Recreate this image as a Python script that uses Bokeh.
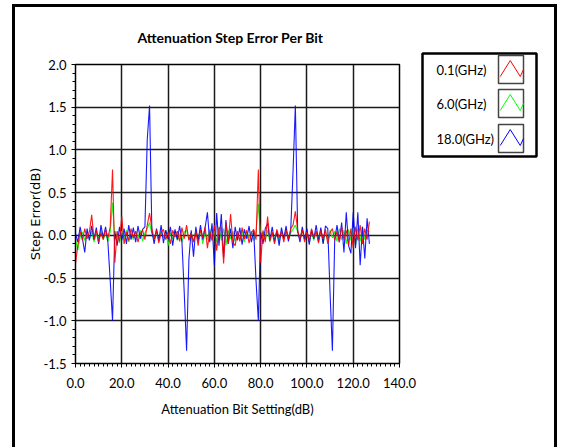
from bokeh.plotting import figure
from bokeh.models import Range1d, SingleIntervalTicker, PrintfTickFormatter
from bokeh.layouts import row
from bokeh.core.properties import value
from bokeh.embed import file_html
from bokeh.resources import INLINE

# ---------------- data ----------------
bit_setting = list(range(0, 128))

series_names = ["0.1(GHz)", "6.0(GHz)", "18.0(GHz)"]
series_colors = ["#ff0000", "#00ff00", "#0000ff"]

err_01 = [-0.33, -0.12, 0.05, -0.06, 0.08, -0.04, 0.04, 0.24, -0.05, 0.06,
          -0.08, 0.03, -0.05, 0.07, -0.03, 0.10, 0.77, -0.32, 0.05, -0.07,
          0.22, -0.10, 0.04, -0.06, 0.08, -0.03, 0.05, -0.08, 0.02, 0.06,
          -0.05, 0.12, 0.26, 0.08, -0.04, 0.06, -0.09, 0.03, 0.07, -0.05,
          0.04, -0.10, 0.06, -0.02, 0.05, -0.07, 0.09, -0.04, 0.12, -0.06,
          0.03, -0.08, 0.05, -0.12, 0.07, -0.03, 0.10, -0.15, 0.04, -0.06,
          0.12, -0.18, 0.08, 0.10, -0.33, 0.15, -0.10, 0.25, -0.08, -0.12,
          0.05, -0.07, 0.09, -0.04, 0.06, -0.09, 0.03, 0.07, -0.05, 0.77,
          -0.32, 0.06, -0.08, 0.22, -0.06, 0.04, -0.10, 0.07, -0.03, 0.05,
          -0.08, 0.06, -0.04, 0.08, 0.12, 0.28, 0.06, -0.05, 0.07, -0.08,
          0.04, -0.06, 0.08, -0.03, 0.05, -0.09, 0.06, -0.04, 0.07, -0.10,
          0.03, 0.08, -0.06, 0.05, -0.08, 0.10, -0.05, 0.06, -0.12, 0.08,
          -0.15, 0.10, -0.06, 0.12, -0.10, 0.08, -0.05, 0.16]

err_60 = [-0.05, -0.17, -0.02, 0.04, -0.06, 0.03, -0.04, 0.05, -0.08, 0.02,
          -0.03, 0.06, -0.05, 0.03, -0.07, 0.04, 0.38, -0.05, 0.03, -0.09,
          0.05, -0.04, 0.06, -0.08, 0.02, -0.05, 0.04, -0.03, 0.06, -0.07,
          0.03, 0.08, 0.15, 0.02, -0.05, 0.04, -0.06, 0.05, -0.03, 0.06,
          -0.12, 0.03, -0.04, 0.05, -0.06, 0.02, -0.08, 0.04, 0.06, -0.05,
          0.03, -0.07, 0.05, -0.04, 0.06, -0.10, 0.04, -0.05, 0.07, -0.03,
          0.05, -0.08, 0.10, -0.06, 0.08, -0.12, 0.06, -0.04, 0.05, -0.07,
          0.03, -0.05, 0.06, -0.08, 0.04, -0.03, 0.05, -0.06, 0.04, 0.37,
          -0.06, 0.04, -0.05, 0.06, -0.08, 0.03, -0.04, 0.05, -0.07, 0.04,
          -0.03, 0.06, -0.05, 0.03, 0.07, 0.12, 0.04, -0.05, 0.06, -0.04,
          0.05, -0.08, 0.03, -0.06, 0.05, -0.04, 0.07, -0.09, 0.04, -0.05,
          0.06, -0.03, 0.05, -0.07, 0.08, -0.05, 0.06, -0.10, 0.07, -0.06,
          0.09, -0.12, 0.08, -0.07, 0.10, -0.05, 0.06, 0.04]

err_180 = [0.02, -0.08, 0.10, -0.04, -0.20, 0.08, -0.06, 0.11, -0.05, 0.09,
           -0.10, 0.12, -0.03, 0.10, -0.08, -0.53, -1.00, 0.05, -0.12, 0.10,
           -0.06, 0.08, -0.10, 0.12, -0.05, 0.09, -0.08, 0.11, -0.04, 0.07,
           0.10, 1.12, 1.52, 0.05, -0.10, 0.08, -0.06, 0.12, -0.09, 0.06,
           -0.04, 0.10, -0.12, 0.07, -0.05, 0.11, -0.08, -0.68, -1.35, -0.28,
           0.06, -0.25, 0.10, -0.07, 0.12, -0.05, 0.09, 0.27, -0.08, 0.14,
           -0.35, 0.26, -0.12, 0.25, -0.26, 0.18, -0.10, 0.08, -0.15, 0.10,
           -0.06, 0.09, -0.11, 0.07, -0.04, 0.11, -0.08, 0.06, -0.53, -1.00,
           0.04, -0.10, 0.08, 0.14, -0.06, 0.10, -0.08, 0.05, -0.12, 0.09,
           -0.04, 0.11, -0.07, 0.06, 0.75, 1.52, 0.05, -0.08, 0.10, -0.05,
           0.08, -0.11, 0.06, -0.04, 0.12, -0.07, 0.09, -0.10, 0.11, 0.08,
           -0.68, -1.35, -0.05, 0.12, -0.08, 0.15, -0.20, 0.27, -0.12, -0.21,
           0.27, -0.15, 0.27, -0.35, 0.10, -0.27, 0.20, -0.10]

series_values = [err_01, err_60, err_180]

ui_font = "Lato"

# ---------------- main plot ----------------
p = figure(width=403, height=440,
           x_range=Range1d(0, 140), y_range=Range1d(-1.5, 2.0),
           output_backend="svg", toolbar_location=None,
           min_border_left=60, min_border_right=19,
           min_border_top=57, min_border_bottom=84,
           background_fill_color="white", border_fill_color="white")
p.frame_align = False

p.title.text = "Attenuation Step Error Per Bit"
p.title.align = "left"
p.title.offset = 62
p.title.standoff = 37
p.title.text_font = ui_font
p.title.text_font_size = "14px"
p.title.text_font_style = "bold"
p.title.text_color = "black"

# draw order: green, blue, red on top
for idx in [1, 2, 0]:
    p.line(bit_setting, series_values[idx], line_color=series_colors[idx],
           line_width=1.1, line_alpha=0.9)

p.xaxis.ticker = SingleIntervalTicker(interval=20, num_minor_ticks=10)
p.yaxis.ticker = SingleIntervalTicker(interval=0.5, num_minor_ticks=5)
p.xaxis.formatter = PrintfTickFormatter(format="%.1f")
p.yaxis.formatter = PrintfTickFormatter(format="%.1f")

for ax in (p.xaxis, p.yaxis):
    ax.axis_line_color = "black"
    ax.major_tick_line_color = "black"
    ax.minor_tick_line_color = "black"
    ax.major_tick_in = 0
    ax.major_tick_out = 4
    ax.minor_tick_in = 0
    ax.minor_tick_out = 3
    ax.major_label_text_font = ui_font
    ax.major_label_text_font_size = "13px"
    ax.major_label_text_color = "black"
    ax.axis_label_text_font_style = "normal"
    ax.axis_label_text_color = "black"

p.xaxis.major_label_standoff = 10
p.yaxis.major_label_standoff = 5

p.xaxis.axis_label = "Attenuation Bit Setting(dB)"
p.xaxis.axis_label_text_font = ui_font
p.xaxis.axis_label_text_font_size = "13px"
p.xaxis.axis_label_standoff = 10

p.yaxis.axis_label = "Step Error(dB)"
p.yaxis.axis_label_text_font = "DejaVu Sans"
p.yaxis.axis_label_text_font_size = "13px"
p.yaxis.axis_label_standoff = -2

p.grid.grid_line_color = "#1a1a1a"
p.grid.grid_line_width = 1.5
p.outline_line_color = "black"
p.outline_line_width = 1.5

# ---------------- legend panel ----------------
leg = figure(width=136, height=170,
             x_range=Range1d(0, 114), y_range=Range1d(0, 103),
             output_backend="svg", toolbar_location=None,
             min_border_left=4, min_border_right=18,
             min_border_top=46, min_border_bottom=21,
             x_axis_location=None, y_axis_location=None,
             background_fill_color="white", border_fill_color="white")
leg.frame_align = False
leg.grid.visible = False
leg.outline_line_color = "black"
leg.outline_line_width = 2.5

row_y = [87, 53, 18]
icon_cx, icon_w, icon_h = 88.5, 25, 28
zig_fx = [0.07, 0.47, 0.87, 1.0]
zig_fy = [0.25, 0.82, 0.25, 0.5]

leg.text(x=[14] * 3, y=row_y, text=series_names,
         text_font=value(ui_font), text_font_size="13px",
         text_baseline="middle", text_align="left", text_color="black")
leg.rect(x=[icon_cx] * 3, y=row_y, width=icon_w, height=icon_h,
         fill_color="white", line_color="#444444", line_width=1.5)
for cy, col in zip(row_y, series_colors):
    xs = [icon_cx - icon_w / 2 + icon_w * f for f in zig_fx]
    ys = [cy - icon_h / 2 + icon_h * f for f in zig_fy]
    leg.line(xs, ys, line_color=col, line_width=1)

root = row(p, leg, margin=(4, 0, 0, 12),
           styles={"border-top": "3px solid black",
                   "border-left": "3px solid black",
                   "border-right": "3px solid black",
                   "background-color": "white"})

open("out.html", "w").write(file_html(root, INLINE))
